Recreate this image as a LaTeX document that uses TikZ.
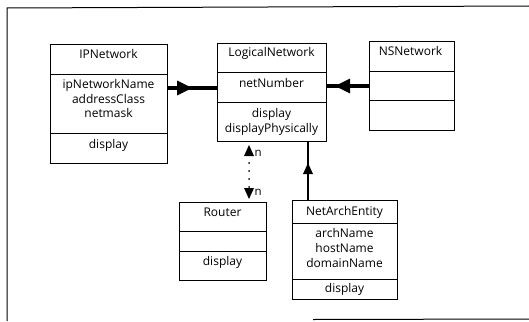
\documentclass[tikz,border=0pt]{standalone}
\usepackage{fontspec}
\setmainfont{Open Sans}
\usetikzlibrary{arrows.meta}
\begin{document}
\begin{tikzpicture}[x=1pt,y=-1pt,
  classbox/.style={draw, line width=0.9pt, rectangle, inner sep=0pt},
  divider/.style={line width=0.8pt},
  lbl/.style={font=\fontsize{12}{14}\selectfont, inner sep=0pt, anchor=mid},
  mult/.style={font=\fontsize{11.5}{13}\selectfont, inner sep=0pt, anchor=mid west},
  aggr/.style={line width=3.2pt},
  inherit/.style={line width=1.4pt},
  dotline/.style={line width=2pt, line cap=round, dash pattern=on 0pt off 8pt},
  frame/.style={line width=1pt}
]
\useasboundingbox (0,0) rectangle (529,321);

% outer frame, open on the right
\draw[frame] (529,6) -- (7,8) -- (7,321);
\draw[frame] (313,319.5) -- (529,319);

% class boxes: name, left, top, right, bottom, first divider, second divider
\newcommand{\classbox}[7]{%
  \node[classbox, minimum width=#4-#2, minimum height=#5-#3, anchor=north west] (#1) at (#2,#3) {};
  \draw[divider] (#2,#6) -- (#4,#6);
  \draw[divider] (#2,#7) -- (#4,#7);
}
\classbox{ipnet}{50}{44}{167}{163}{74}{133}
\classbox{lognet}{217}{43}{326}{141}{72}{102}
\classbox{nsnet}{369}{41}{454}{130}{71}{100}
\classbox{router}{179}{202}{266}{280}{231}{251}
\classbox{arch}{292}{200}{397}{299}{223}{279}

% IPNetwork
\node[lbl] (ipT) at (108.5,56) {IPNetwork};
\node[lbl] (ipA1) at (108.5,86) {ipNetworkName};
\node[lbl] (ipA2) at (108.5,100.5) {addressClass};
\node[lbl] (ipA3) at (108.5,115) {netmask};
\node[lbl] (ipO1) at (108.5,145.5) {display};

% LogicalNetwork
\node[lbl] (lnT) at (271.5,54) {LogicalNetwork};
\node[lbl] (lnA1) at (271.5,84.5) {netNumber};
\node[lbl] (lnO1) at (271.5,115) {display};
\node[lbl] (lnO2) at (271.5,129.5) {displayPhysically};

% NSNetwork
\node[lbl] (nsT) at (410.5,53) {NSNetwork};

% Router
\node[lbl] (rtT) at (222.5,214) {Router};
\node[lbl] (rtO1) at (222.5,262.5) {display};

% NetArchEntity
\node[lbl] (aeT) at (344.5,212.5) {NetArchEntity};
\node[lbl] (aeA1) at (344.5,235) {archName};
\node[lbl] (aeA2) at (344.5,250) {hostName};
\node[lbl] (aeA3) at (344.5,264.5) {domainName};
\node[lbl] (aeO1) at (344.5,290) {display};

% heavy links into LogicalNetwork, arrowhead midway
\coordinate (ipR) at (ipnet.east |- 0,88);
\coordinate (lnL) at (lognet.west |- 0,88);
\draw[aggr] (ipR) -- (lnL);
\path[fill] (192,88) -- (177,80.5) -- (177,95.5) -- cycle;

\coordinate (nsL) at (nsnet.west |- 0,86);
\coordinate (lnR) at (lognet.east |- 0,86);
\draw[aggr] (nsL) -- (lnR);
\path[fill] (335,86) -- (350,78.5) -- (350,93.5) -- cycle;

% Router <-> LogicalNetwork, dotted, multiplicity n at both ends
\coordinate (lnB) at (lognet.south -| 249,0);
\coordinate (rtTop) at (router.north -| 249,0);
\draw[dotline] (249,163) -- (249,188);
\path[fill] (249,145) -- (244,156) -- (254,156) -- cycle;
\path[fill] (249,199) -- (244,188) -- (254,188) -- cycle;
\node[mult] (m1) at (254.5,154) {n};
\node[mult] (m2) at (254.5,193) {n};

% NetArchEntity inherits from LogicalNetwork
\coordinate (lnB2) at (lognet.south -| 308,0);
\coordinate (aeTop) at (arch.north -| 308,0);
\draw[inherit] (aeTop) -- (lnB2);
\path[fill] (308,163) -- (303,174) -- (313,174) -- cycle;
\end{tikzpicture}
\end{document}
